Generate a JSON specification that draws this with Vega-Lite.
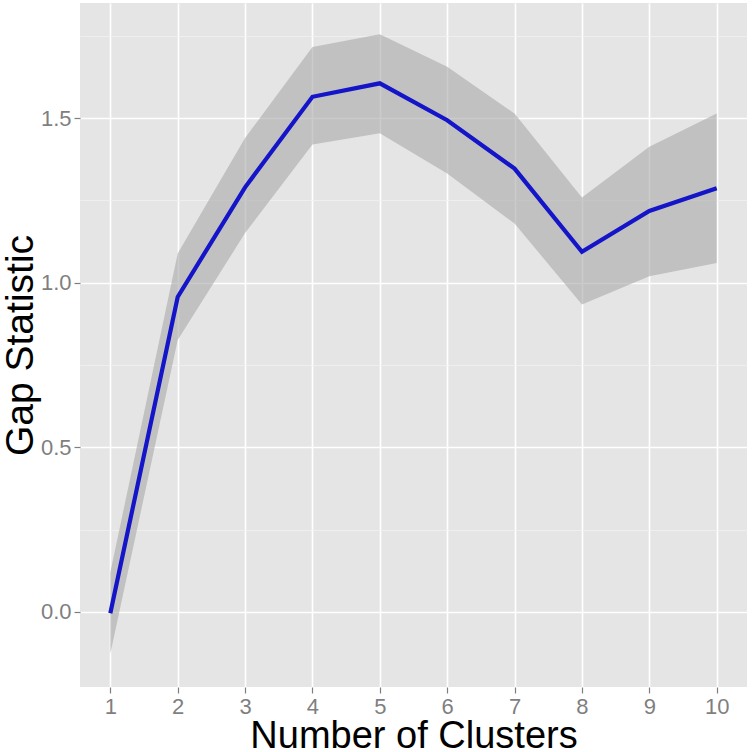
{
  "$schema": "https://vega.github.io/schema/vega-lite/v6.json",
  "width": 667,
  "height": 684,
  "autosize": {"type": "none"},
  "padding": {"left": 80, "top": 3, "right": 5, "bottom": 65},
  "background": "white",
  "config": {
    "view": {"fill": "#e5e5e5", "stroke": null},
    "font": "Liberation Sans"
  },
  "data": {
    "values": [
      {"k": 1, "gap": -0.004, "lo": -0.127, "hi": 0.12},
      {"k": 2, "gap": 0.957, "lo": 0.826, "hi": 1.089},
      {"k": 3, "gap": 1.29, "lo": 1.151, "hi": 1.44},
      {"k": 4, "gap": 1.565, "lo": 1.42, "hi": 1.716},
      {"k": 5, "gap": 1.606, "lo": 1.454, "hi": 1.755},
      {"k": 6, "gap": 1.494, "lo": 1.332, "hi": 1.656},
      {"k": 7, "gap": 1.347, "lo": 1.18, "hi": 1.514},
      {"k": 8, "gap": 1.094, "lo": 0.934, "hi": 1.259},
      {"k": 9, "gap": 1.218, "lo": 1.02, "hi": 1.413},
      {"k": 10, "gap": 1.287, "lo": 1.06, "hi": 1.514}
    ]
  },
  "encoding": {
    "x": {
      "field": "k",
      "type": "quantitative",
      "scale": {"domain": [0.55, 10.45], "nice": false, "zero": false},
      "axis": {
        "title": "Number of Clusters",
        "values": [1, 1.5, 2, 2.5, 3, 3.5, 4, 4.5, 5, 5.5, 6, 6.5, 7, 7.5, 8, 8.5, 9, 9.5, 10],
        "labelExpr": "datum.value % 1 === 0 ? datum.label : ''",
        "format": "d",
        "grid": true,
        "gridColor": {"condition": {"test": "datum.value % 1 !== 0", "value": "#f1f1f1"}, "value": "#ffffff"},
        "gridWidth": {"condition": {"test": "datum.value % 1 !== 0", "value": 0.8}, "value": 1.6},
        "tickColor": "#7f7f7f",
        "tickOpacity": {"condition": {"test": "datum.value % 1 !== 0", "value": 0}, "value": 1},
        "tickSize": 6,
        "tickWidth": 1.2,
        "domain": false,
        "labelColor": "#7f7f7f",
        "labelFontSize": 22,
        "labelPadding": 3,
        "titleFontSize": 38,
        "titleFontWeight": "normal",
        "titleColor": "#000000",
        "titlePadding": 0
      }
    },
    "y": {
      "type": "quantitative",
      "scale": {"domain": [-0.228, 1.85], "nice": false, "zero": false},
      "axis": {
        "title": "Gap Statistic",
        "values": [0, 0.25, 0.5, 0.75, 1, 1.25, 1.5, 1.75],
        "labelExpr": "datum.value % 0.5 === 0 ? datum.label : ''",
        "format": ".1f",
        "grid": true,
        "gridColor": {"condition": {"test": "datum.value % 0.5 !== 0", "value": "#f1f1f1"}, "value": "#ffffff"},
        "gridWidth": {"condition": {"test": "datum.value % 0.5 !== 0", "value": 0.8}, "value": 1.6},
        "tickColor": "#7f7f7f",
        "tickOpacity": {"condition": {"test": "datum.value % 0.5 !== 0", "value": 0}, "value": 1},
        "tickSize": 6,
        "tickWidth": 1.2,
        "domain": false,
        "labelColor": "#7f7f7f",
        "labelFontSize": 22,
        "labelPadding": 3,
        "titleFontSize": 39,
        "titleFontWeight": "normal",
        "titleColor": "#000000",
        "titlePadding": 0
      }
    }
  },
  "layer": [
    {
      "mark": {"type": "area", "color": "#a8a8a8", "opacity": 0.6},
      "encoding": {
        "y": {"field": "lo"},
        "y2": {"field": "hi"}
      }
    },
    {
      "mark": {"type": "line", "color": "#1414c8", "strokeWidth": 4.2},
      "encoding": {
        "y": {"field": "gap"}
      }
    }
  ]
}
